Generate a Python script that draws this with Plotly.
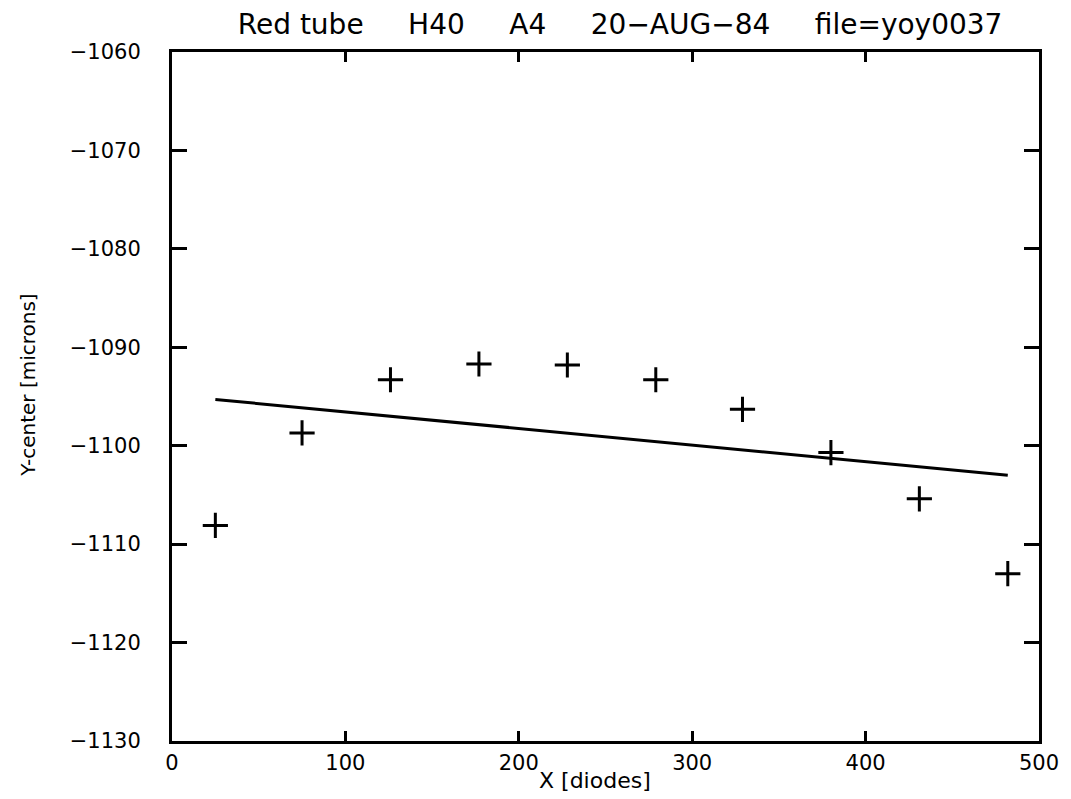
import plotly.graph_objects as go

# ---- data ----
x_diodes = [25, 75, 126, 177, 228, 279, 329, 380, 431, 482]
y_center = [-1108.1, -1098.7, -1093.3, -1091.7, -1091.8, -1093.3, -1096.3, -1100.7, -1105.4, -1113.0]

fit_x = [25, 482]
fit_y = [-1095.3, -1103.0]

x_ticks = [0, 100, 200, 300, 400, 500]
y_ticks = [-1130, -1120, -1110, -1100, -1090, -1080, -1070, -1060]
y_tick_text = ["\u22121130", "\u22121120", "\u22121110", "\u22121100", "\u22121090", "\u22121080", "\u22121070", "\u22121060"]

NB = "\u00a0"
GAP = NB * 4 + " "
title_text = "Red tube" + GAP + "H40" + GAP + "A4" + GAP + "20\u2212AUG\u221284" + GAP + "file=yoy0037"

FONT = "DejaVu Sans"

fig = go.Figure()
fig.add_trace(go.Scatter(
    x=fit_x, y=fit_y, mode="lines",
    line=dict(color="black", width=3), showlegend=False, hoverinfo="skip"))
fig.add_trace(go.Scatter(
    x=x_diodes, y=y_center, mode="markers",
    marker=dict(symbol="cross-thin", size=18, line=dict(color="black", width=3), color="black"),
    showlegend=False))

fig.update_layout(
    width=1071, height=799,
    margin=dict(l=172, r=22, t=52, b=58),
    paper_bgcolor="white", plot_bgcolor="white",
    font=dict(family=FONT, color="black", size=20),
    title=dict(text=title_text, x=0.579, xanchor="center", y=0.97, yanchor="middle",
               font=dict(family=FONT, size=28, color="black")),
    xaxis=dict(range=[0, 500], tickvals=x_ticks, ticks="inside", ticklen=10, tickwidth=2.5,
               tickcolor="black", showline=True, linecolor="black", linewidth=3,
               mirror="allticks", showgrid=False, zeroline=False,
               tickfont=dict(family=FONT, size=21, color="black"), ticklabelstandoff=1),
    yaxis=dict(range=[-1130, -1060], tickvals=y_ticks, ticktext=y_tick_text, ticks="inside",
               ticklen=15, tickwidth=2.5, tickcolor="black", showline=True, linecolor="black",
               linewidth=3, mirror="allticks", showgrid=False, zeroline=False,
               tickfont=dict(family=FONT, size=21, color="black"), ticklabelstandoff=24),
    annotations=[
        dict(text="X [diodes]", xref="paper", yref="paper", x=0.488, y=-0.058,
             xanchor="center", yanchor="middle", showarrow=False,
             font=dict(family=FONT, size=22, color="black")),
        dict(text="Y-center [microns]", xref="paper", yref="paper", x=-0.166, y=0.517,
             xanchor="center", yanchor="middle", textangle=-90, showarrow=False,
             font=dict(family=FONT, size=20, color="black")),
    ],
)

fig.write_html("out.html")
